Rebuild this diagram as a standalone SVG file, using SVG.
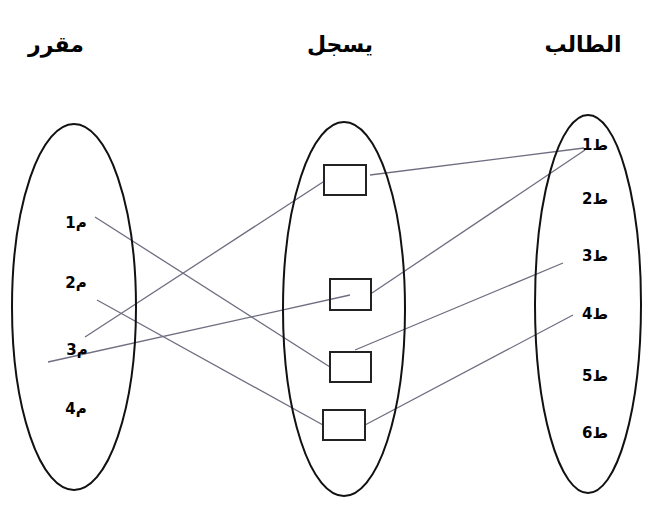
<svg xmlns="http://www.w3.org/2000/svg" width="646" height="510" viewBox="0 0 646 510">
<style>
.ell{fill:none;stroke:#111;stroke-width:2}
.box{fill:#fff;stroke:#222;stroke-width:2}
.title{font-family:"DejaVu Sans",sans-serif;font-weight:bold;font-size:22px;fill:#000}
.lbl{font-family:"DejaVu Sans",sans-serif;font-weight:bold;font-size:15px;fill:#000}
.con{stroke:#6e6e80;stroke-width:1.3;fill:none}
</style>
<rect width="646" height="510" fill="#fff"/>
<g id="titles">
<text class="title" x="56" y="52" text-anchor="middle">مقرر</text>
<text class="title" x="340" y="52" text-anchor="middle">يسجل</text>
<text class="title" x="583" y="52" text-anchor="middle">الطالب</text>
</g>
<g id="connectors">
<line class="con" x1="95" y1="217" x2="330" y2="367"/>
<line class="con" x1="97" y1="300" x2="323" y2="425"/>
<line class="con" x1="85" y1="337" x2="323" y2="182"/>
<line class="con" x1="48" y1="362" x2="350" y2="295"/>
<line class="con" x1="370" y1="175" x2="584" y2="148"/>
<line class="con" x1="372" y1="293" x2="585" y2="150"/>
<line class="con" x1="355" y1="350" x2="563" y2="263"/>
<line class="con" x1="365" y1="425" x2="573" y2="315"/>
</g>
<g id="course">
<ellipse class="ell" cx="74" cy="307" rx="62" ry="183"/>
<text class="lbl" x="76" y="228" text-anchor="middle">م1</text>
<text class="lbl" x="76" y="288" text-anchor="middle">م2</text>
<text class="lbl" x="77" y="355" text-anchor="middle">م3</text>
<text class="lbl" x="76" y="414" text-anchor="middle">م4</text>
</g>
<g id="register">
<ellipse class="ell" cx="344" cy="309" rx="61" ry="187"/>
<rect class="box" x="324" y="165" width="42" height="30" style="fill:none"/>
<rect class="box" x="330" y="279" width="41" height="31" style="fill:none"/>
<rect class="box" x="330" y="352" width="41" height="30" style="fill:none"/>
<rect class="box" x="323" y="410" width="42" height="30" style="fill:none"/>
</g>
<g id="student">
<ellipse class="ell" cx="588" cy="304" rx="53" ry="189"/>
<text class="lbl" x="595" y="150" text-anchor="middle">ط1</text>
<text class="lbl" x="595" y="204" text-anchor="middle">ط2</text>
<text class="lbl" x="595" y="261" text-anchor="middle">ط3</text>
<text class="lbl" x="595" y="319" text-anchor="middle">ط4</text>
<text class="lbl" x="595" y="381" text-anchor="middle">ط5</text>
<text class="lbl" x="595" y="438" text-anchor="middle">ط6</text>
</g>
</svg>
